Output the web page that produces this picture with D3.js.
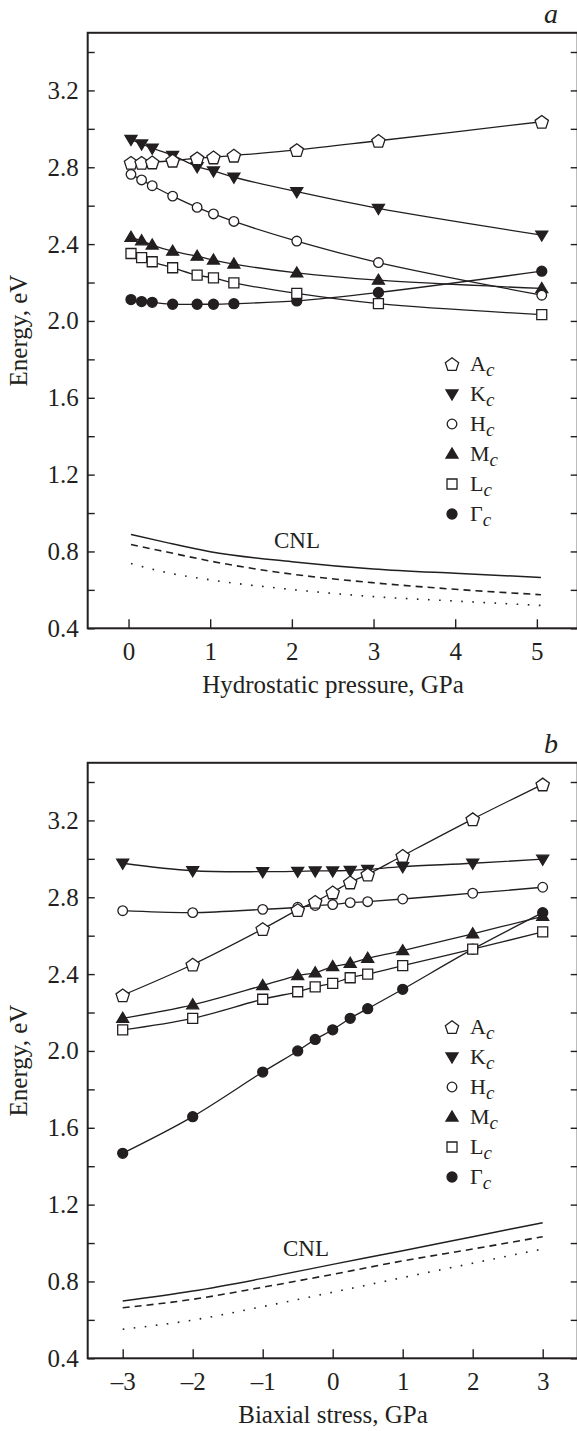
<!DOCTYPE html>
<html>
<head>
<meta charset="utf-8">
<script src="https://cdn.jsdelivr.net/npm/d3@7"></script>
<style>
  body { margin: 0; background: #fff; }
  svg { display: block; }
  text { font-family: "Liberation Serif", "Times New Roman", serif; fill: #231f20; }
</style>
</head>
<body>
<div id="chart"></div>
<script>
// ---- panel a : hydrostatic pressure ----
var pressure = [0.03, 0.16, 0.29, 0.54, 0.84, 1.04, 1.29, 2.06, 3.06, 5.06];
var aAc = [2.824, 2.824, 2.826, 2.835, 2.847, 2.852, 2.861, 2.890, 2.938, 3.037];
var aKc = [2.945, 2.921, 2.899, 2.862, 2.803, 2.781, 2.748, 2.673, 2.586, 2.447];
var aHc = [2.763, 2.734, 2.704, 2.650, 2.591, 2.557, 2.518, 2.416, 2.304, 2.134];
var aMc = [2.435, 2.417, 2.395, 2.363, 2.337, 2.317, 2.296, 2.250, 2.212, 2.169];
var aLc = [2.351, 2.330, 2.308, 2.277, 2.238, 2.224, 2.198, 2.143, 2.090, 2.033];
var aGc = [2.111, 2.101, 2.097, 2.087, 2.087, 2.087, 2.090, 2.104, 2.148, 2.259];

var cnlPressure = [0.03, 0.47, 1, 2, 3, 4, 5.05];
var aCnlSolid  = [0.889, 0.846, 0.799, 0.747, 0.709, 0.686, 0.665];
var aCnlDashed = [0.836, 0.797, 0.750, 0.682, 0.637, 0.603, 0.575];
var aCnlDotted = [0.737, 0.690, 0.652, 0.602, 0.565, 0.542, 0.519];

// ---- panel b : biaxial stress ----
var stress = [-3, -2, -1, -0.5, -0.25, 0, 0.25, 0.5, 1, 2, 3];
var bAc = [2.29, 2.45, 2.635, 2.734, 2.777, 2.826, 2.878, 2.919, 3.016, 3.207, 3.388];
var bKc = [2.977, 2.938, 2.933, 2.935, 2.937, 2.937, 2.940, 2.945, 2.959, 2.977, 2.998];
var bHc = [2.73, 2.72, 2.737, 2.748, 2.757, 2.762, 2.772, 2.777, 2.791, 2.821, 2.852];
var bMc = [2.17, 2.24, 2.340, 2.392, 2.407, 2.439, 2.456, 2.482, 2.522, 2.61, 2.70];
var bLc = [2.11, 2.17, 2.269, 2.308, 2.334, 2.352, 2.381, 2.400, 2.444, 2.53, 2.62];
var bGc = [1.467, 1.658, 1.89, 2.00, 2.06, 2.11, 2.17, 2.22, 2.321, 2.53, 2.72];

var cnlStress = [-3, -2, -1, 0, 1, 2, 3];
var bCnlSolid  = [0.698, 0.750, 0.816, 0.889, 0.960, 1.033, 1.106];
var bCnlDashed = [0.663, 0.707, 0.770, 0.837, 0.907, 0.969, 1.033];
var bCnlDotted = [0.551, 0.599, 0.669, 0.744, 0.820, 0.895, 0.969];

// legend / series names
var seriesNames = ["A", "K", "H", "M", "L", "\u0393"];
var seriesMarks = ["pentagon", "triDown", "circleOpen", "triUp", "square", "circleFill"];
var energyTicks = [0.4, 0.6, 0.8, 1.0, 1.2, 1.4, 1.6, 1.8, 2.0, 2.2, 2.4, 2.6, 2.8, 3.0, 3.2, 3.4];
var pressureTicks = [0, 1, 2, 3, 4, 5];
var stressTicks = [-3, -2, -1, 0, 1, 2, 3];

var W = 577, H = 1431;
var ink = "#231f20";

var svg = d3.select("#chart").append("svg")
  .attr("width", W).attr("height", H);
svg.append("rect").attr("width", W).attr("height", H).attr("fill", "#fff");

// marker path generator, centred on 0,0
function markPath(kind) {
  var p = d3.path();
  if (kind === "pentagon") {
    var r = 7;
    for (var i = 0; i < 5; i++) {
      var a = -Math.PI / 2 + i * 2 * Math.PI / 5;
      if (i === 0) p.moveTo(r * Math.cos(a), r * Math.sin(a) + 0.8);
      else p.lineTo(r * Math.cos(a), r * Math.sin(a) + 0.8);
    }
    p.closePath();
  } else if (kind === "triDown") {
    p.moveTo(-6, -4); p.lineTo(6, -4); p.lineTo(0, 6); p.closePath();
  } else if (kind === "triUp") {
    p.moveTo(-6, 4); p.lineTo(6, 4); p.lineTo(0, -6); p.closePath();
  } else if (kind === "square") {
    p.rect(-5, -5, 10, 10);
  } else {
    p.arc(0, 0, kind === "circleFill" ? 5 : 4.8, 0, 2 * Math.PI);
  }
  return p.toString();
}
function markFill(kind) {
  return (kind === "triDown" || kind === "triUp" || kind === "circleFill") ? ink : "#fff";
}

function drawPanel(cfg) {
  var left = 87.7, right = 577.7;
  var x = d3.scaleLinear().domain(cfg.xDomain).range([left, right]);
  var y = d3.scaleLinear().domain([0.4, 3.5]).range([cfg.bottom, cfg.bottom - 3.1 * 192.1]);
  var g = svg.append("g");

  // left axis, inward ticks
  var yAxis = d3.axisLeft(y).tickValues(energyTicks)
    .tickSizeInner(-7).tickSizeOuter(0).tickPadding(9)
    .tickFormat(function(d) {
      var k = Math.round(d * 10);
      return (k % 4 === 0) ? d3.format(".1f")(d) : "";
    });
  var ya = g.append("g").attr("transform", "translate(" + left + ",0)").call(yAxis);
  ya.select(".domain").remove();

  // right axis ticks
  var yr = g.append("g").attr("transform", "translate(" + right + ",0)")
    .call(d3.axisRight(y).tickValues(energyTicks).tickSizeInner(-7).tickSizeOuter(0).tickFormat(""));
  yr.select(".domain").remove();

  // bottom axis
  var xAxis = d3.axisBottom(x).tickValues(cfg.xTicks)
    .tickSizeInner(-9).tickSizeOuter(0).tickPadding(14)
    .tickFormat(function(d) { return d < 0 ? "\u2013" + Math.abs(d) : d; });
  var xa = g.append("g").attr("transform", "translate(0," + y(0.4) + ")").call(xAxis);
  xa.select(".domain").remove();

  g.selectAll(".tick line").attr("stroke", ink).attr("stroke-width", 1.4);
  g.selectAll(".tick text").attr("font-size", 25).attr("fill", ink)
    .style("font-family", "'Liberation Serif', serif");

  // frame
  g.append("rect")
    .attr("x", left).attr("y", y(3.5))
    .attr("width", right - left).attr("height", y(0.4) - y(3.5))
    .attr("fill", "none").attr("stroke", ink).attr("stroke-width", 2);

  // CNL curves
  var cnlLine = d3.line()
    .x(function(d) { return x(d[0]); })
    .y(function(d) { return y(d[1]); })
    .curve(d3.curveMonotoneX);
  var cnlStyles = [
    { v: cfg.cnl[0], dash: null, w: 1.5 },
    { v: cfg.cnl[1], dash: "7,5", w: 1.6 },
    { v: cfg.cnl[2], dash: "1.6,9.5", w: 1.6 }
  ];
  cnlStyles.forEach(function(s) {
    g.append("path")
      .datum(d3.zip(cfg.cnlX, s.v))
      .attr("d", cnlLine)
      .attr("fill", "none").attr("stroke", ink)
      .attr("stroke-width", s.w)
      .attr("stroke-dasharray", s.dash);
  });
  g.append("text").attr("x", cfg.cnlLabel[0]).attr("y", cfg.cnlLabel[1])
    .attr("font-size", 23).text("CNL");

  // series lines
  var line = d3.line()
    .x(function(d) { return x(d[0]); })
    .y(function(d) { return y(d[1]); })
    .curve(d3.curveCatmullRom.alpha(0.5));
  cfg.series.forEach(function(vals) {
    g.append("path").datum(d3.zip(cfg.xs, vals)).attr("d", line)
      .attr("fill", "none").attr("stroke", ink).attr("stroke-width", 1.3);
  });
  // markers
  cfg.drawOrder.forEach(function(si) {
    var kind = seriesMarks[si];
    g.selectAll(null).data(d3.zip(cfg.xs, cfg.series[si])).enter()
      .append("path")
      .attr("transform", function(d) { return "translate(" + x(d[0]) + "," + y(d[1]) + ")"; })
      .attr("d", markPath(kind))
      .attr("fill", markFill(kind))
      .attr("stroke", ink).attr("stroke-width", 1.3);
  });

  // legend
  seriesNames.forEach(function(name, i) {
    var ly = cfg.legendTop + i * 30;
    var kind = seriesMarks[i];
    g.append("path").attr("transform", "translate(452," + ly + ")")
      .attr("d", markPath(kind)).attr("fill", markFill(kind))
      .attr("stroke", ink).attr("stroke-width", 1.3);
    var t = g.append("text").attr("x", 470).attr("y", ly + 7).attr("font-size", 22);
    t.append("tspan").text(name);
    t.append("tspan").attr("font-style", "italic").attr("font-size", 19)
      .attr("dy", 5).text("c");
  });

  // axis titles and panel letter
  svg.append("text").attr("x", 333).attr("y", y(0.4) + 65)
    .attr("text-anchor", "middle").attr("font-size", 25).text(cfg.xTitle);
  svg.append("text")
    .attr("transform", "translate(27," + ((y(0.4) + y(3.5)) / 2) + ") rotate(-90)")
    .attr("text-anchor", "middle").attr("font-size", 25).text("Energy, eV");
  svg.append("text").attr("x", 544).attr("y", y(3.5) - 10)
    .attr("font-size", 28).attr("font-style", "italic").text(cfg.letter);
}

drawPanel({
  letter: "a",
  bottom: 628.3,
  xDomain: [-0.5, 5.5],
  xTicks: pressureTicks,
  xTitle: "Hydrostatic pressure, GPa",
  xs: pressure,
  series: [aAc, aKc, aHc, aMc, aLc, aGc],
  drawOrder: [5, 4, 3, 2, 1, 0],
  cnlX: cnlPressure,
  cnl: [aCnlSolid, aCnlDashed, aCnlDotted],
  cnlLabel: [274, 548],
  legendTop: 364
});

drawPanel({
  letter: "b",
  bottom: 1358.3,
  xDomain: [-3.5, 3.5],
  xTicks: stressTicks,
  xTitle: "Biaxial stress, GPa",
  xs: stress,
  series: [bAc, bKc, bHc, bMc, bLc, bGc],
  drawOrder: [5, 4, 3, 2, 1, 0],
  cnlX: cnlStress,
  cnl: [bCnlSolid, bCnlDashed, bCnlDotted],
  cnlLabel: [283, 1256],
  legendTop: 1027
});
</script>
</body>
</html>
